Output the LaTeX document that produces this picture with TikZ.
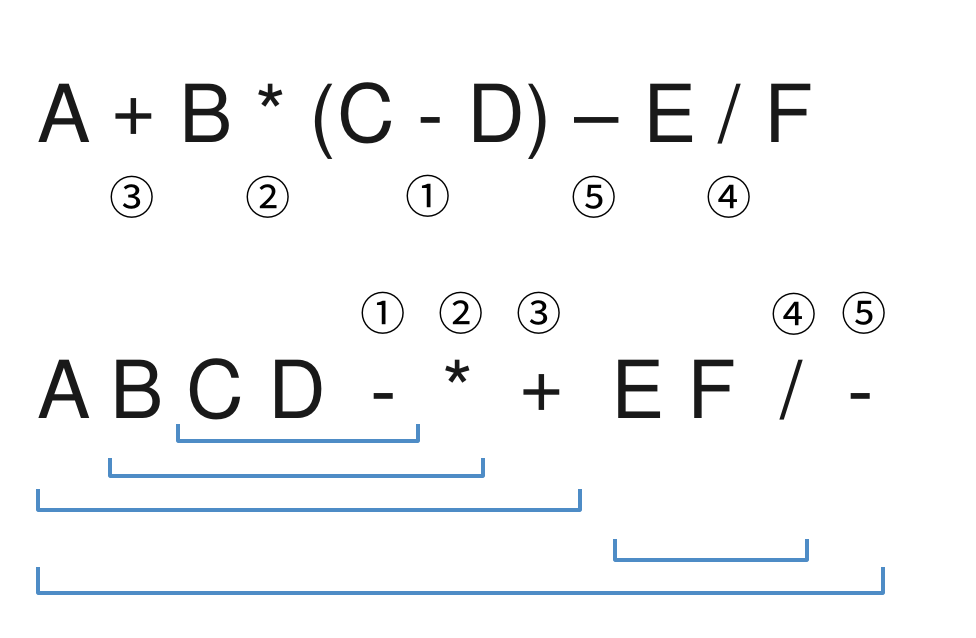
\documentclass[tikz,border=0pt]{standalone}
\usepackage{fontspec}
\setmainfont{TeX Gyre Heros}
\newfontfamily\symfont{TeX Gyre Heros}
\newfontfamily\circfont{Noto Sans CJK JP}
\begin{document}
\begin{tikzpicture}[x=0.75pt,y=-0.75pt,
  sym/.style={inner sep=0pt,anchor=base,text=black!90,font=\symfont\fontsize{60}{60}\selectfont},
  circnum/.style={inner sep=0pt,anchor=center,font=\circfont\fontsize{34}{34}\selectfont},
  brk/.style={draw={rgb,255:red,78;green,140;blue,198},line width=2.4pt,line join=round}]
\useasboundingbox (0,0) rectangle (976,638);
% top expression
\node[sym] (t1) at (64,143) {A};
\node[sym] (t2) at (134,137) {+};
\node[sym] (t3) at (206,143) {B};
\node[sym] (t4) at (271,143) {*};
\node[sym] (t5) at (323,143) {(};
\node[sym] (t6) at (366,143) {C};
\node[sym] (t7) at (431,143) {-};
\node[sym] (t8) at (496,143) {D};
\node[sym] (t9) at (539,143) {)};
\node[sym] (t10) at (597,143) {–};
\node[sym] (t11) at (670,143) {E};
\node[sym] (t12) at (730,143) {/};
\node[sym] (t13) at (789,143) {F};
% top order numbers
\node[circnum] (c3) at (132,197) {③};
\node[circnum] (c2) at (268,197) {②};
\node[circnum] (c1) at (428,196) {①};
\node[circnum] (c5) at (594,197) {⑤};
\node[circnum] (c4) at (729,197) {④};
% postfix
\node[sym] (p1) at (64,418) {A};
\node[sym] (p2) at (137,418) {B};
\node[sym] (p3) at (215,418) {C};
\node[sym] (p4) at (297,418) {D};
\node[sym] (p5) at (384,418) {-};
\node[sym] (p6) at (458,418) {*};
\node[sym] (p7) at (542,412) {+};
\node[sym] (p8) at (638,418) {E};
\node[sym] (p9) at (712,418) {F};
\node[sym] (p10) at (792,418) {/};
\node[sym] (p11) at (861,418) {-};
% postfix order numbers
\node[circnum] (d1) at (383,313) {①};
\node[circnum] (d2) at (461,313) {②};
\node[circnum] (d3) at (539,313) {③};
\node[circnum] (d4) at (794,314) {④};
\node[circnum] (d5) at (864,313) {⑤};
% brackets
\draw[brk] (178,424) -- (178,441) -- (418,441) -- (418,424);
\draw[brk] (110,458) -- (110,476) -- (483,476) -- (483,458);
\draw[brk] (38,489) -- (38,510) -- (580,510) -- (580,489);
\draw[brk] (615,539) -- (615,560) -- (807,560) -- (807,539);
\draw[brk] (38,567) -- (38,593) -- (883,593) -- (883,567);
\end{tikzpicture}
\end{document}
